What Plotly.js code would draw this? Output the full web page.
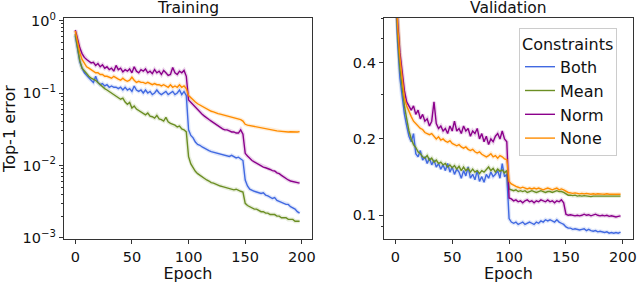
<!DOCTYPE html>
<html>
<head>
<meta charset="utf-8">
<script src="https://cdn.plot.ly/plotly-3.0.1.min.js"></script>
<style>html,body{margin:0;padding:0;background:#fff;}#chart{width:640px;height:283px;}</style>
</head>
<body>
<div id="chart"></div>
<script>
// Epochs sampled every 2
const epochs = [0,2,4,6,8,10,12,14,16,18,20,22,24,26,28,30,32,34,36,38,40,42,44,46,48,50,52,54,56,58,60,62,64,66,68,70,72,74,76,78,80,82,84,86,88,90,92,94,96,98,100,102,104,106,108,110,112,114,116,118,120,122,124,126,128,130,132,134,136,138,140,142,144,146,148,150,152,154,156,158,160,162,164,166,168,170,172,174,176,178,180,182,184,186,188,190,192,194,196,198];

const seriesNames = ["Both", "Mean", "Norm", "None"];
const seriesColors = ["#4169E1", "#6B8E23", "#8B008B", "#FF8C00"];

// Training top-1 error
const trainBoth = [0.62,0.40,0.27,0.22,0.19,0.175,0.16,0.15,0.14,0.17,0.14,0.13,0.135,0.125,0.13,0.12,0.125,0.12,0.12,0.115,0.12,0.11,0.12,0.11,0.115,0.105,0.125,0.11,0.105,0.11,0.10,0.11,0.10,0.105,0.095,0.10,0.11,0.10,0.095,0.10,0.105,0.095,0.10,0.105,0.095,0.10,0.11,0.095,0.105,0.092,
0.031,0.026,0.024,0.021,0.0195,0.019,0.018,0.0172,0.0167,0.016,0.0155,0.0152,0.015,0.0145,0.0142,0.014,0.0138,0.0136,0.0133,0.0138,0.0132,0.0127,0.013,0.0122,0.0117,
0.0063,0.0052,0.0047,0.0045,0.0044,0.0043,0.0042,0.0041,0.0042,0.0039,0.0038,0.0036,0.0035,0.0036,0.0033,0.0032,0.0031,0.0030,0.0029,0.0029,0.0027,0.0026,0.0025,0.0023,0.0022];
const trainMean = [0.65,0.42,0.28,0.22,0.2,0.185,0.17,0.16,0.155,0.15,0.14,0.13,0.12,0.115,0.11,0.105,0.1,0.095,0.092,0.088,0.082,0.085,0.075,0.07,0.074,0.062,0.066,0.06,0.057,0.055,0.052,0.05,0.053,0.048,0.047,0.045,0.049,0.044,0.043,0.041,0.046,0.04,0.038,0.037,0.036,0.034,0.035,0.032,0.031,0.029,
0.0132,0.0105,0.0092,0.0083,0.0077,0.0073,0.0069,0.0066,0.0063,0.0061,0.0058,0.0057,0.0055,0.0054,0.0052,0.0051,0.005,0.0049,0.0048,0.0047,0.0046,0.0047,0.0045,0.0044,0.0043,
0.003,0.0028,0.0027,0.0026,0.0025,0.0025,0.0024,0.0023,0.0023,0.0022,0.0022,0.0021,0.0021,0.0021,0.002,0.002,0.0019,0.0019,0.0019,0.0018,0.0018,0.0018,0.0017,0.0017,0.0017];
const trainNorm = [0.74,0.55,0.42,0.35,0.31,0.29,0.27,0.26,0.265,0.24,0.255,0.23,0.245,0.22,0.23,0.21,0.22,0.20,0.24,0.21,0.22,0.195,0.21,0.20,0.215,0.19,0.23,0.20,0.19,0.21,0.20,0.215,0.19,0.20,0.185,0.21,0.19,0.20,0.18,0.205,0.19,0.175,0.18,0.225,0.19,0.18,0.20,0.19,0.205,0.17,
0.08,0.074,0.068,0.063,0.058,0.055,0.051,0.048,0.045,0.043,0.041,0.039,0.037,0.035,0.034,0.032,0.031,0.031,0.030,0.029,0.029,0.028,0.028,0.031,0.027,
0.0147,0.0135,0.0125,0.0117,0.0112,0.0107,0.0103,0.0099,0.0095,0.0093,0.0091,0.0088,0.0085,0.0084,0.0079,0.0077,0.0073,0.0069,0.0065,0.0063,0.0061,0.006,0.0058,0.0058,0.0057];
const trainNone = [0.72,0.50,0.36,0.29,0.26,0.23,0.22,0.21,0.20,0.19,0.19,0.18,0.18,0.17,0.17,0.165,0.16,0.17,0.16,0.155,0.15,0.16,0.15,0.145,0.15,0.165,0.15,0.14,0.145,0.14,0.14,0.135,0.14,0.135,0.13,0.135,0.13,0.13,0.125,0.13,0.125,0.12,0.13,0.12,0.125,0.12,0.13,0.12,0.125,0.115,
0.092,0.085,0.08,0.075,0.071,0.068,0.065,0.062,0.06,0.058,0.056,0.055,0.053,0.052,0.051,0.05,0.049,0.048,0.047,0.046,0.046,0.045,0.044,0.043,0.041,
0.037,0.036,0.0355,0.035,0.034,0.0335,0.033,0.0325,0.032,0.0318,0.0312,0.031,0.0305,0.030,0.030,0.0298,0.0295,0.0295,0.029,0.029,0.0292,0.029,0.0288,0.029,0.0293];

// Validation top-1 error
const valBoth = [0.80,0.48,0.35,0.29,0.25,0.225,0.205,0.195,0.21,0.175,0.17,0.18,0.165,0.17,0.16,0.168,0.158,0.165,0.155,0.16,0.152,0.158,0.15,0.16,0.148,0.155,0.145,0.152,0.148,0.14,0.15,0.143,0.155,0.14,0.145,0.138,0.15,0.136,0.142,0.135,0.145,0.14,0.148,0.142,0.145,0.15,0.14,0.16,0.142,0.145,
0.097,0.094,0.093,0.094,0.092,0.093,0.094,0.092,0.093,0.094,0.093,0.092,0.094,0.093,0.095,0.094,0.096,0.095,0.096,0.095,0.094,0.096,0.094,0.093,0.092,
0.090,0.089,0.089,0.088,0.0885,0.088,0.0875,0.088,0.0885,0.087,0.088,0.087,0.0865,0.087,0.086,0.0865,0.086,0.0855,0.086,0.085,0.0855,0.085,0.0855,0.085,0.0858];
const valMean = [0.85,0.52,0.38,0.31,0.27,0.24,0.215,0.20,0.19,0.185,0.178,0.175,0.17,0.168,0.172,0.165,0.168,0.162,0.165,0.16,0.162,0.158,0.16,0.155,0.158,0.154,0.157,0.152,0.156,0.15,0.155,0.15,0.153,0.148,0.152,0.148,0.15,0.146,0.15,0.148,0.152,0.155,0.15,0.153,0.148,0.152,0.149,0.151,0.147,0.15,
0.127,0.126,0.125,0.126,0.124,0.125,0.124,0.125,0.123,0.124,0.125,0.124,0.123,0.124,0.125,0.124,0.123,0.124,0.124,0.123,0.124,0.125,0.124,0.124,0.123,
0.121,0.120,0.120,0.1195,0.120,0.119,0.1195,0.119,0.1195,0.119,0.119,0.1185,0.119,0.119,0.1185,0.119,0.1185,0.119,0.1185,0.119,0.1185,0.119,0.1185,0.119,0.119];
const valNorm = [0.95,0.58,0.44,0.36,0.31,0.28,0.27,0.26,0.27,0.25,0.26,0.24,0.25,0.235,0.24,0.225,0.235,0.28,0.23,0.22,0.225,0.215,0.22,0.21,0.225,0.215,0.235,0.215,0.22,0.21,0.225,0.215,0.22,0.205,0.215,0.21,0.22,0.2,0.21,0.195,0.205,0.19,0.2,0.195,0.205,0.21,0.2,0.215,0.2,0.195,
0.117,0.116,0.114,0.115,0.113,0.114,0.112,0.114,0.115,0.113,0.114,0.112,0.114,0.113,0.115,0.114,0.113,0.115,0.113,0.114,0.112,0.114,0.113,0.115,0.112,
0.101,0.1,0.1005,0.1,0.0995,0.1,0.0995,0.1,0.101,0.1,0.1005,0.0995,0.1,0.101,0.1,0.0995,0.1,0.0995,0.1,0.099,0.0995,0.099,0.0985,0.099,0.0995];
const valNone = [0.92,0.56,0.42,0.34,0.29,0.27,0.255,0.245,0.235,0.23,0.225,0.22,0.218,0.212,0.21,0.208,0.21,0.205,0.2,0.204,0.198,0.2,0.196,0.194,0.197,0.192,0.19,0.188,0.19,0.186,0.184,0.186,0.182,0.18,0.182,0.178,0.176,0.178,0.174,0.172,0.17,0.172,0.175,0.17,0.172,0.168,0.172,0.17,0.167,0.166,
0.136,0.133,0.131,0.13,0.129,0.128,0.129,0.128,0.127,0.128,0.127,0.128,0.127,0.128,0.127,0.126,0.127,0.128,0.127,0.126,0.127,0.128,0.126,0.127,0.126,
0.124,0.123,0.1225,0.122,0.1225,0.122,0.1215,0.122,0.1215,0.122,0.1215,0.121,0.1215,0.121,0.1215,0.121,0.1212,0.121,0.1215,0.121,0.1212,0.121,0.121,0.1212,0.121];

const trainSeries = [trainBoth, trainMean, trainNorm, trainNone];
const valSeries = [valBoth, valMean, valNorm, valNone];

const trainTickVals = [1, 0.1, 0.01, 0.001];
const trainTickText = ["10<sup>0</sup>", "10<sup>−1</sup>", "10<sup>−2</sup>", "10<sup>−3</sup>"];
const valTickVals = [0.1, 0.2, 0.4];
const valTickText = ["0.1", "0.2", "0.4"];
const xTickVals = [0, 50, 100, 150, 200];

const FONT = "DejaVu Sans, Liberation Sans, sans-serif";
const traces = [];
function addSet(series, xa, ya, legend) {
  // soft bands: same data drawn as wide translucent strokes
  series.forEach((ys, i) => {
    traces.push({x: epochs, y: ys, xaxis: xa, yaxis: ya, type: "scatter", mode: "lines",
      line: {color: seriesColors[i], width: 4}, opacity: 0.16, showlegend: false, hoverinfo: "skip"});
  });
  series.forEach((ys, i) => {
    traces.push({x: epochs, y: ys, xaxis: xa, yaxis: ya, type: "scatter", mode: "lines",
      name: seriesNames[i], line: {color: seriesColors[i], width: 1.4}, showlegend: legend});
  });
}
addSet(trainSeries, "x", "y", false);
addSet(valSeries, "x2", "y2", true);

const axisCommon = {
  showline: true, mirror: true, linecolor: "#333", linewidth: 1.2,
  ticks: "outside", ticklen: 4, tickwidth: 1, tickcolor: "#333",
  showgrid: false, zeroline: false,
  tickfont: {family: FONT, size: 14.5, color: "#111"}
};
const H = 283, W = 640;
const layout = {
  width: W, height: H,
  margin: {l: 0, r: 0, t: 0, b: 0},
  paper_bgcolor: "#fff", plot_bgcolor: "#fff",
  font: {family: FONT, color: "#111"},
  showlegend: true,
  xaxis: Object.assign({}, axisCommon, {
    domain: [64/W, 312/W], range: [-9.95, 208.95], tickvals: xTickVals, anchor: "y",
    title: {text: "Epoch", font: {family: FONT, size: 16, color: "#111"}, standoff: 2}
  }),
  yaxis: Object.assign({}, axisCommon, {
    domain: [1 - 239/H, 1 - 18/H], type: "log", range: [-3.015, 0.035], anchor: "x",
    tickvals: trainTickVals, ticktext: trainTickText,
    minor: {ticks: "outside", ticklen: 2, tickcolor: "#333", showgrid: false,
      tickvals: [0.2,0.3,0.4,0.5,0.6,0.7,0.8,0.9,0.02,0.03,0.04,0.05,0.06,0.07,0.08,0.09,0.002,0.003,0.004,0.005,0.006,0.007,0.008,0.009]},
    title: {text: "Top-1 error", font: {family: FONT, size: 16, color: "#111"}, standoff: 4}
  }),
  xaxis2: Object.assign({}, axisCommon, {
    domain: [384/W, 633/W], range: [-9.95, 208.95], tickvals: xTickVals, anchor: "y2",
    title: {text: "Epoch", font: {family: FONT, size: 16, color: "#111"}, standoff: 2}
  }),
  yaxis2: Object.assign({}, axisCommon, {
    domain: [1 - 239/H, 1 - 18/H], type: "log", range: [Math.log10(0.0806), Math.log10(0.6)], anchor: "x2",
    tickvals: valTickVals, ticktext: valTickText,
    minor: {ticks: "outside", ticklen: 2, tickcolor: "#333", showgrid: false, tickvals: [0.09, 0.3, 0.5, 0.6]}
  }),
  legend: {
    x: 519/W, y: 1 - 28/H, xanchor: "left", yanchor: "top",
    bgcolor: "rgba(255,255,255,0.9)", bordercolor: "#ccc", borderwidth: 1,
    font: {family: FONT, size: 16, color: "#111"},
    title: {text: "Constraints", font: {family: FONT, size: 16, color: "#111"}, side: "top"},
    traceorder: "normal"
  },
  annotations: [
    {text: "Training", xref: "paper", yref: "paper", x: (64+312)/2/W, y: 1, xanchor: "center", yanchor: "top", yshift: 3, showarrow: false, font: {family: FONT, size: 15.5, color: "#111"}},
    {text: "Validation", xref: "paper", yref: "paper", x: (384+633)/2/W, y: 1, xanchor: "center", yanchor: "top", yshift: 3, showarrow: false, font: {family: FONT, size: 15.5, color: "#111"}}
  ]
};
Plotly.newPlot("chart", traces, layout, {staticPlot: true, displayModeBar: false});
</script>
</body>
</html>
